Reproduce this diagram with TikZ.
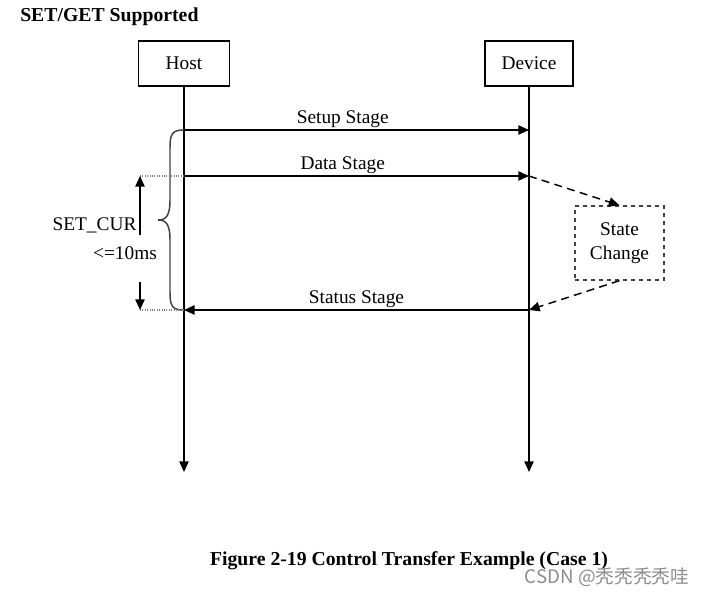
\documentclass[tikz,border=0pt]{standalone}
\usepackage{fontspec}
\setmainfont{Liberation Serif}
\newfontfamily\cjk{Noto Sans CJK SC}
\usetikzlibrary{arrows.meta,positioning}
\tikzset{
    lifebox/.style={draw, line width=1pt, minimum height=33.75pt, inner sep=0pt},
    msg/.style={line width=1.2pt, ->},
    dmsg/.style={line width=1.1pt, ->, dashed, dash pattern=on 6pt off 4pt},
    lbl/.style={above, inner sep=1.5pt}
}
\begin{document}
\begin{tikzpicture}[x=0.75pt, y=-0.75pt, font=\fontsize{14.5}{17}\selectfont,
    >={Triangle[length=8pt,width=7pt]}]

     \useasboundingbox (0,0) rectangle (707,595);

     \node [anchor=base west, inner sep=0pt, font=\fontsize{14.8}{17}\selectfont\bfseries] (title) at (20,22) {SET/GET Supported};

     \node [lifebox, minimum width=68.25pt] (host) at (184,63.5) {Host};
     \node [lifebox, minimum width=66pt] (device) at (529,63.5) {Device};
     \coordinate (hostend) at (184,472);
     \coordinate (devend) at (529,472);
     \draw [msg] (host) -- (hostend);
     \draw [msg] (device) -- (devend);

     \coordinate (hsetup) at (184,130);
     \coordinate (dsetup) at (529,130);
     \coordinate (hdata) at (184,176);
     \coordinate (ddata) at (529,176);
     \coordinate (hstatus) at (184,310);
     \coordinate (dstatus) at (529,310);
     \draw [msg] (hsetup) -- node [lbl, pos=0.46] {Setup Stage} (dsetup);
     \draw [msg] (hdata) -- node [lbl, pos=0.46] {Data Stage} (ddata);
     \draw [msg] (dstatus) -- node [lbl, pos=0.5] {Status Stage} (hstatus);

     \node [draw=black!75, dashed, line width=1pt, minimum width=66.75pt, minimum height=55.5pt,
            align=center, font=\fontsize{14.5}{18}\selectfont] (statechg) at (619.5,243) {State\\Change};
     \draw [dmsg] (ddata) -- (statechg.north);
     \draw [dmsg] (statechg.south) -- (dstatus);

     \draw [black!75, line width=1.1pt] (hsetup) .. controls (172,130) and (170,134) .. (170,148) -- (170,200)
           .. controls (170,216) and (166,220) .. (158,220) .. controls (166,220) and (170,224) .. (170,240)
           -- (170,292) .. controls (170,306) and (172,310) .. (hstatus);

     \coordinate (ttop) at (140,176);
     \coordinate (tbot) at (140,310);
     \coordinate (tup) at (140,235);
     \coordinate (tdown) at (140,282);
     \draw [densely dotted, gray, line width=0.8pt] (ttop) -- (hdata);
     \draw [densely dotted, gray, line width=0.8pt] (tbot) -- (hstatus);
     \draw [msg] (tup) -- (ttop);
     \draw [msg] (tdown) -- (tbot);

     \node [anchor=base, inner sep=0pt] (setcur) at (94.5,231) {SET\_CUR};
     \node [anchor=base, inner sep=0pt] (limit) at (125,260) {<=10ms};

     \node [anchor=base, inner sep=0pt, font=\fontsize{14.8}{17}\selectfont\bfseries] (caption) at (409,565)
           {Figure 2-19 Control Transfer Example (Case 1)};
     \node [anchor=base, inner sep=0pt, text=black!45, font=\fontsize{14}{17}\selectfont\cjk] (mark) at (607,583)
           {CSDN @秃秃秃秃哇};
\end{tikzpicture}
\end{document}
